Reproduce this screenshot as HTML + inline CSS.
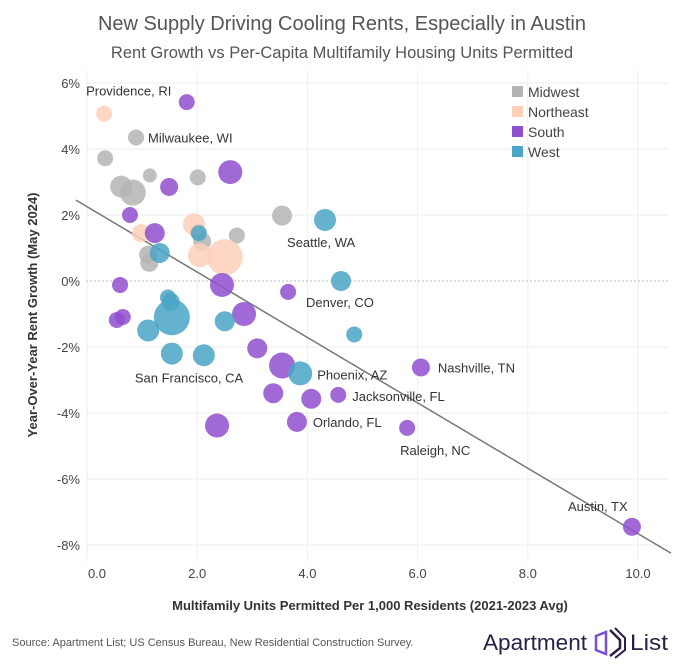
<!DOCTYPE html>
<html><head><meta charset="utf-8"><style>
body{margin:0;background:#fff;font-family:"Liberation Sans",sans-serif}
</style></head><body>
<svg id="chart" width="684" height="665" xmlns="http://www.w3.org/2000/svg" font-family="Liberation Sans, sans-serif">
<text x="342" y="30" text-anchor="middle" font-size="20" fill="#555">New Supply Driving Cooling Rents, Especially in Austin</text>
<text x="342" y="58" text-anchor="middle" font-size="16.5" fill="#555">Rent Growth vs Per-Capita Multifamily Housing Units Permitted</text>
<g id="grid"></g><g id="marks"></g><g id="labels"></g>
<text transform="translate(37,315) rotate(-90)" text-anchor="middle" font-size="13" font-weight="bold" fill="#333">Year-Over-Year Rent Growth (May 2024)</text>
<text x="370" y="610" text-anchor="middle" font-size="13" font-weight="bold" fill="#333">Multifamily Units Permitted Per 1,000 Residents (2021-2023 Avg)</text>
<text x="12" y="646" font-size="11" fill="#555">Source: Apartment List; US Census Bureau, New Residential Construction Survey.</text>
<g>
<text x="483" y="650" font-size="22" fill="#2a1f44" textLength="104" lengthAdjust="spacingAndGlyphs">Apartment</text>
<path d="M596 636 L606 632 L606 654 L596 650 Z" fill="none" stroke="#7a4fd0" stroke-width="2.5"/>
<path d="M610 630 L620 640 L620 648 L610 656" fill="none" stroke="#2a1f44" stroke-width="2.5"/>
<path d="M615 628 L625 638 L625 650 L615 658" fill="none" stroke="#2a1f44" stroke-width="2"/>
<text x="630" y="650" font-size="22" fill="#2a1f44" textLength="38" lengthAdjust="spacingAndGlyphs">List</text>
</g>
</svg>
<script>
const xTicks=[0,2,4,6,8,10];
const xTickLabels=["0.0","2.0","4.0","6.0","8.0","10.0"];
const yTicks=[6,4,2,0,-2,-4,-6,-8];
const yTickLabels=["6%","4%","2%","0%","-2%","-4%","-6%","-8%"];
const regions=["Midwest","Northeast","South","West"];
const colors={Midwest:"#b4b4b4",Northeast:"#fdd0b8",South:"#8f4fcf",West:"#4aa5c6"};
const midwestX=[0.89,0.33,0.62,0.83,1.14,2.01,3.54,2.72,2.01,2.09,1.11,1.13];
const midwestY=[4.35,3.72,2.86,2.68,3.2,3.14,1.98,1.38,1.5,1.2,0.8,0.55];
const midwestR=[8,8,11,13,7,8,10,8,8,9,9,9];
const northeastX=[0.31,1.94,0.98,2.05,2.5];
const northeastY=[5.07,1.72,1.45,0.78,0.72];
const northeastR=[8,11,9,12,18];
const southX=[1.81,2.6,1.49,0.78,1.23,0.6,2.45,3.65,0.54,0.65,2.85,3.09,3.54,3.38,4.07,4.56,3.81,2.36,6.06,5.81,9.89];
const southY=[5.42,3.3,2.85,2.0,1.45,-0.12,-0.12,-0.33,-1.18,-1.09,-1.0,-2.04,-2.56,-3.4,-3.57,-3.45,-4.27,-4.38,-2.62,-4.45,-7.45];
const southR=[8,12,9,8,10,8,12,8,8,8,12,10,13,10,10,8,10,12,9,8,9];
const westX=[4.32,4.61,4.85,1.32,2.03,1.47,1.52,1.54,1.11,1.54,2.12,2.5,3.87];
const westY=[1.85,0,-1.62,0.85,1.45,-0.5,-0.63,-1.1,-1.5,-2.2,-2.25,-1.22,-2.8];
const westR=[11,10,8,10,8,8,9,18,11,11,11,10,12];
const cityNames=["Providence, RI","Milwaukee, WI","Seattle, WA","Denver, CO","San Francisco, CA","Phoenix, AZ","Nashville, TN","Jacksonville, FL","Orlando, FL","Raleigh, NC","Austin, TX"];
const cityX=[0.31,0.89,4.32,4.61,1.54,3.87,6.06,4.56,3.81,5.81,9.89];
const cityY=[5.07,4.35,1.85,0,-2.2,-2.8,-2.62,-3.45,-4.27,-4.45,-7.45];
const trendX=[-0.2,10.6];
const trendY=[2.45,-8.25];
const NS="http://www.w3.org/2000/svg";
const X0=87,XS=55.1,Y0=281,YS=33;
const xs=v=>X0+v*XS, ys=v=>Y0-v*YS;
function mk(t,a,p){const e=document.createElementNS(NS,t);for(const k in a)e.setAttribute(k,a[k]);p.appendChild(e);return e;}
const grid=document.getElementById('grid'),marks=document.getElementById('marks'),lab=document.getElementById('labels');
xTicks.forEach((t,i)=>{
 const l=mk('line',{x1:xs(t),x2:xs(t),y1:70,y2:562,stroke:'#eee'},grid);
 
 
 const tx=mk('text',{x:xs(t)+(i==0?10:0),y:578,'text-anchor':'middle','font-size':13,fill:'#444'},grid);tx.textContent=xTickLabels[i];
 
 
});
yTicks.forEach((t,i)=>{
 const l=mk('line',{x1:86,x2:668,y1:ys(t),y2:ys(t),stroke:t==0?'#bbb':'#eee','stroke-dasharray':t==0?'2,2':''},grid);
 
 
 const tx=mk('text',{x:80,y:ys(t)+5,'text-anchor':'end','font-size':13,fill:'#444'},grid);tx.textContent=yTickLabels[i];
 
 
});
const tl=mk('line',{x1:xs(trendX[0]),y1:ys(trendY[0]),x2:xs(trendX[1]),y2:ys(trendY[1]),stroke:'#777','stroke-width':1.5},grid);


const series={Midwest:[midwestX,midwestY,midwestR],Northeast:[northeastX,northeastY,northeastR],South:[southX,southY,southR],West:[westX,westY,westR]};
regions.forEach(r=>{const [X,Y,R]=series[r];X.forEach((x,i)=>{
 const c=mk('circle',{cx:xs(x),cy:ys(Y[i]),r:R[i],fill:colors[r],'fill-opacity':0.85},marks);
 
 
});});
const offs=[[-18,-18],[12,5],[-38,27],[-35,26],[-37,29],[17,6],[17,5],[14,6],[16,5],[-7,27],[-64,-16]];
cityNames.forEach((n,i)=>{
 const t=mk('text',{x:xs(cityX[i])+offs[i][0],y:ys(cityY[i])+offs[i][1],'font-size':13,fill:'#333'},lab);t.textContent=n;
 
 
});
regions.forEach((r,i)=>{
 const g=mk('g',{},lab);
 
 
 mk('rect',{x:512,y:86+i*20,width:11,height:11,fill:colors[r]},g);
 const t=mk('text',{x:528,y:97+i*20,'font-size':14,fill:'#444'},g);t.textContent=r;
});
</script>
</body></html>
